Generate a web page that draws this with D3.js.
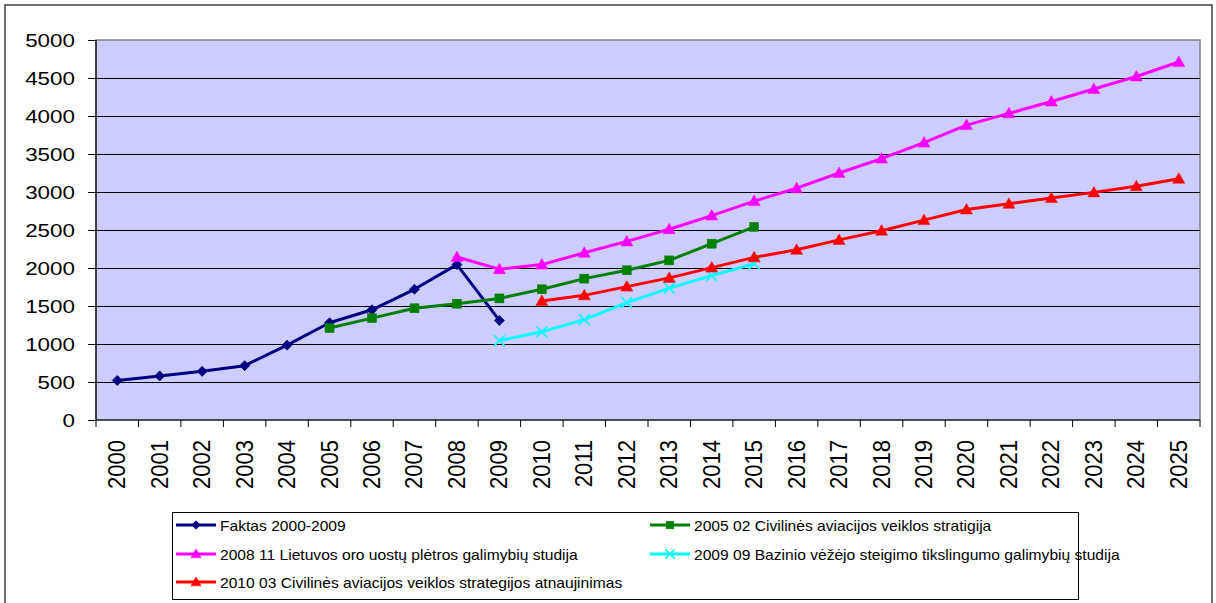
<!DOCTYPE html>
<html>
<head>
<meta charset="utf-8">
<script src="https://cdn.jsdelivr.net/npm/d3@7"></script>
<style>
html,body{margin:0;padding:0;background:#fff;}
svg{display:block;font-family:"Liberation Sans",Arial,sans-serif;}
</style>
</head>
<body>
<svg id="chart" width="1216" height="603"></svg>
<script>
// ---- data ----
const years = d3.range(2000, 2026).map(String);
const yTicks = [0,500,1000,1500,2000,2500,3000,3500,4000,4500,5000];

const faktasYears = d3.range(2000, 2010).map(String);
const faktasValues = [520,580,640,715,985,1280,1450,1720,2045,1310];

const strat2005Years = d3.range(2005, 2016).map(String);
const strat2005Values = [1210,1340,1470,1530,1600,1720,1860,1970,2100,2320,2540];

const studija2008Years = d3.range(2008, 2026).map(String);
const studija2008Values = [2145,1985,2045,2200,2350,2510,2690,2880,3050,3250,3440,3650,3880,4035,4190,4355,4520,4710];

const bazinis2009Years = d3.range(2009, 2016).map(String);
const bazinis2009Values = [1045,1160,1320,1545,1735,1900,2055];

const atnauj2010Years = d3.range(2010, 2026).map(String);
const atnauj2010Values = [1565,1640,1755,1870,2005,2140,2240,2370,2490,2630,2770,2845,2920,2995,3075,3175];

const seriesNames = [
  "Faktas 2000-2009",
  "2005 02 Civilinės aviacijos veiklos stratigija",
  "2008 11 Lietuvos oro uostų plėtros galimybių studija",
  "2009 09 Bazinio vėžėjo steigimo tikslingumo galimybių studija",
  "2010 03 Civilinės aviacijos veiklos strategijos atnaujinimas"
];

// ---- build ----
const series = [
  {name: seriesNames[0], years: faktasYears, values: faktasValues, color: "#000080", marker: "diamond"},
  {name: seriesNames[1], years: strat2005Years, values: strat2005Values, color: "#008000", marker: "square"},
  {name: seriesNames[2], years: studija2008Years, values: studija2008Values, color: "#FF00FF", marker: "triangle"},
  {name: seriesNames[3], years: bazinis2009Years, values: bazinis2009Values, color: "#00FFFF", marker: "x"},
  {name: seriesNames[4], years: atnauj2010Years, values: atnauj2010Values, color: "#FF0000", marker: "triangle"}
];

const svg = d3.select("#chart");
const L = 96, R = 1200, T = 40, B = 420;

const x = d3.scaleBand().domain(years).range([L, R]).padding(0);
const y = d3.scaleLinear().domain([0, 5000]).range([B, T]);

// outer frame
svg.append("rect").attr("x", 5).attr("y", 5).attr("width", 1207).attr("height", 610)
  .attr("fill", "#fff").attr("stroke", "#404040").attr("stroke-width", 1.5);

// plot area
svg.append("rect").attr("x", L).attr("y", T).attr("width", R - L).attr("height", B - T)
  .attr("fill", "#CCCCFF").attr("stroke", "#808080").attr("stroke-width", 1.5);

// gridlines
svg.append("g").selectAll("line").data(yTicks.filter(v => v > 0 && v < 5000)).join("line")
  .attr("x1", L).attr("x2", R).attr("y1", d => Math.round(y(d)) + 0.5).attr("y2", d => Math.round(y(d)) + 0.5)
  .attr("stroke", "#000").attr("stroke-width", 1);

// y axis
const yAxis = svg.append("g");
yAxis.append("line").attr("x1", L).attr("x2", L).attr("y1", T).attr("y2", B).attr("stroke", "#000").attr("stroke-width", 1.2);
yAxis.selectAll("line.t").data(yTicks).join("line").attr("class", "t")
  .attr("x1", L - 8).attr("x2", L).attr("y1", d => Math.round(y(d)) + 0.5).attr("y2", d => Math.round(y(d)) + 0.5)
  .attr("stroke", "#000");
yAxis.selectAll("text").data(yTicks).join("text")
  .attr("transform", d => `translate(${L - 21},${y(d) + 7}) scale(1.18,1)`)
  .attr("text-anchor", "end").attr("font-size", 19).attr("fill", "#000")
  .text(d => d);

// x axis
const xAxis = svg.append("g");
xAxis.append("line").attr("x1", L).attr("x2", R).attr("y1", B).attr("y2", B).attr("stroke", "#000").attr("stroke-width", 1.2);
xAxis.selectAll("line.t").data(years.concat(["end"])).join("line").attr("class", "t")
  .attr("x1", d => d === "end" ? R : x(d)).attr("x2", d => d === "end" ? R : x(d))
  .attr("y1", B).attr("y2", B + 7).attr("stroke", "#000");
xAxis.selectAll("text").data(years).join("text")
  .attr("transform", d => `translate(${x(d) + x.bandwidth() / 2 + 8},440) scale(1.1,1) rotate(-90)`)
  .attr("text-anchor", "end").attr("font-size", 22).attr("fill", "#000")
  .text(d => d);

// markers
function drawMarker(g, type, color, cx, cy, s) {
  s = s || 1;
  if (type === "diamond") {
    const h = 5 * s;
    g.append("path").attr("d", `M${cx},${cy - h}L${cx + h},${cy}L${cx},${cy + h}L${cx - h},${cy}Z`)
      .attr("fill", color).attr("stroke", color).attr("stroke-width", 0.8);
  } else if (type === "square") {
    const h = 4.5 * s;
    g.append("rect").attr("x", cx - h).attr("y", cy - h).attr("width", 2 * h).attr("height", 2 * h)
      .attr("fill", color).attr("stroke", color).attr("stroke-width", 0.5);
  } else if (type === "triangle") {
    const h = 6 * s;
    g.append("path").attr("d", `M${cx},${cy - h}L${cx + h},${cy + h * 0.75}L${cx - h},${cy + h * 0.75}Z`)
      .attr("fill", color).attr("stroke", color).attr("stroke-width", 0.5);
  } else if (type === "x") {
    const h = 5.5 * s;
    g.append("path").attr("d", `M${cx - h},${cy - h}L${cx + h},${cy + h}M${cx - h},${cy + h}L${cx + h},${cy - h}`)
      .attr("stroke", color).attr("stroke-width", 1.6).attr("fill", "none");
  }
}

const line = d3.line().x(d => x(d.year) + x.bandwidth() / 2).y(d => y(d.value));

series.forEach(s => {
  const pts = s.years.map((yr, i) => ({year: yr, value: s.values[i]}));
  const g = svg.append("g");
  g.append("path").datum(pts).attr("d", line).attr("fill", "none")
    .attr("stroke", s.color).attr("stroke-width", 3).attr("stroke-linejoin", "round");
  pts.forEach(p => drawMarker(g, s.marker, s.color, x(p.year) + x.bandwidth() / 2, y(p.value)));
});

// legend
const lg = svg.append("g");
lg.append("rect").attr("x", 172.5).attr("y", 512.5).attr("width", 906).attr("height", 87)
  .attr("fill", "#fff").attr("stroke", "#000").attr("stroke-width", 1);
const legendPos = [
  {lx: 176, ty: 525}, {lx: 650, ty: 525},
  {lx: 176, ty: 554}, {lx: 650, ty: 554},
  {lx: 176, ty: 582}
];
series.forEach((s, i) => {
  const p = legendPos[i];
  lg.append("line").attr("x1", p.lx).attr("x2", p.lx + 40).attr("y1", p.ty).attr("y2", p.ty)
    .attr("stroke", s.color).attr("stroke-width", 3);
  drawMarker(lg, s.marker, s.color, p.lx + 20, p.ty, 0.85);
  lg.append("text").attr("transform", `translate(${p.lx + 44},${p.ty + 5.5}) scale(1.04,1)`)
    .attr("font-size", 15).attr("fill", "#000").text(s.name);
});
</script>
</body>
</html>
